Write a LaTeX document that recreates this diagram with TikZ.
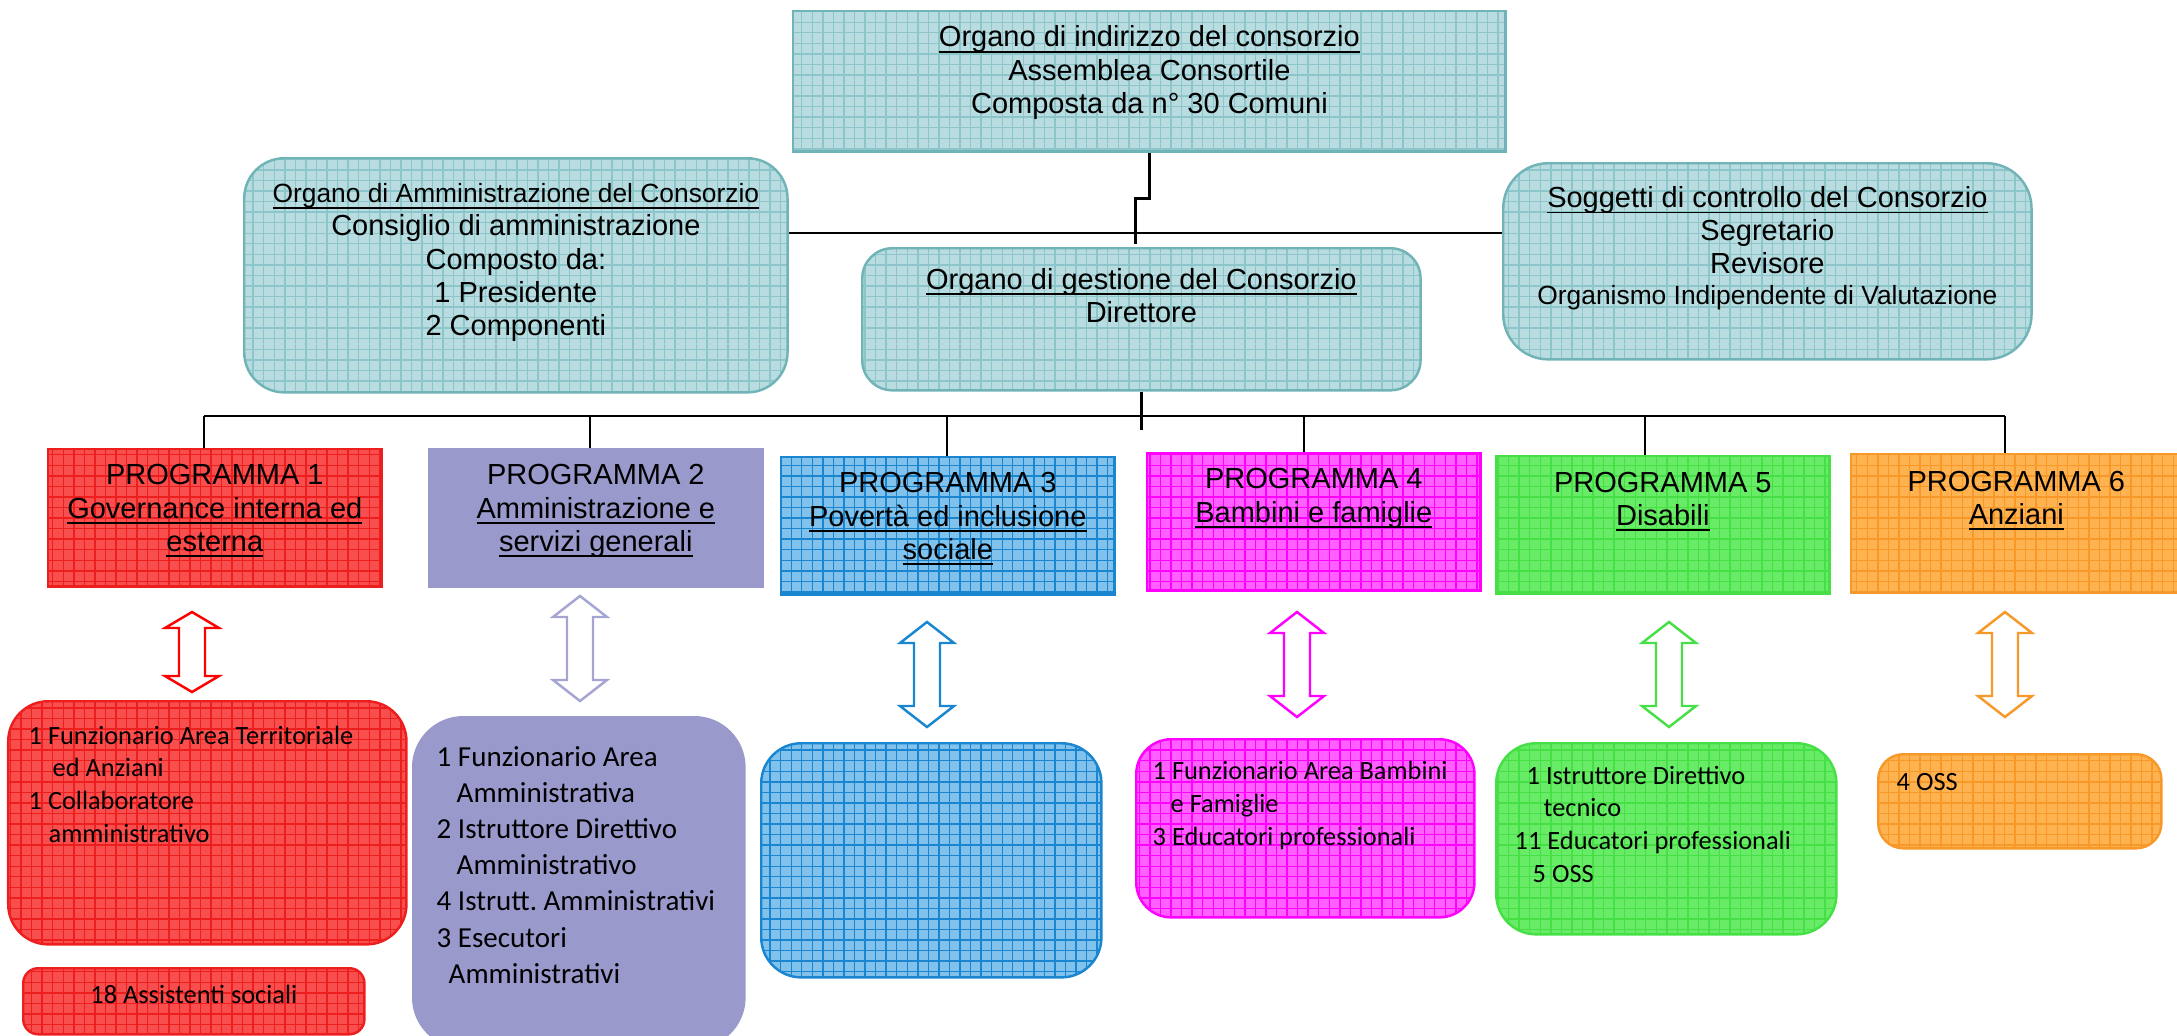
\documentclass[tikz,border=0pt]{standalone}
\usepackage{fontspec}
\setmainfont{Liberation Sans}
\newfontfamily\calib{Carlito}
\usetikzlibrary{patterns}

\definecolor{tealfill}{RGB}{184,220,223}
\definecolor{tealgrid}{RGB}{140,198,202}
\definecolor{tealline}{RGB}{112,180,184}
\definecolor{redfill}{RGB}{248,78,78}
\definecolor{redgrid}{RGB}{236,30,30}
\definecolor{purp}{RGB}{153,153,204}
\definecolor{purparrow}{RGB}{165,165,212}
\definecolor{bluefill}{RGB}{128,194,236}
\definecolor{bluegrid}{RGB}{26,134,208}
\definecolor{magfill}{RGB}{255,96,255}
\definecolor{maggrid}{RGB}{255,0,255}
\definecolor{grnfill}{RGB}{104,236,104}
\definecolor{grngrid}{RGB}{70,224,70}
\definecolor{orgfill}{RGB}{255,178,80}
\definecolor{orggrid}{RGB}{247,152,40}

\newcommand{\uln}[1]{\underline{\smash{#1}}}
% hollow up-down arrow: centre x, top tip, bottom tip, colour
\newcommand{\dblarr}[4]{%
  \draw[#4, line width=0.7pt, fill=white, line join=miter]
    (#1,#2) -- ({#1+27},{#2+0.2*(#3-#2)}) -- ({#1+13},{#2+0.2*(#3-#2)})
    -- ({#1+13},{#3-0.2*(#3-#2)}) -- ({#1+27},{#3-0.2*(#3-#2)}) -- (#1,#3)
    -- ({#1-27},{#3-0.2*(#3-#2)}) -- ({#1-13},{#3-0.2*(#3-#2)})
    -- ({#1-13},{#2+0.2*(#3-#2)}) -- ({#1-27},{#2+0.2*(#3-#2)}) -- cycle;}

\begin{document}
\begin{tikzpicture}[x=0.01cm, y=-0.01cm]
        \tikzset{plate/.style={inner sep=0pt, anchor=north west, line width=0.7pt}}
        \tikzset{tealbox/.style={plate, preaction={fill=tealfill}, pattern=grid, pattern color=tealgrid, draw=tealline}}
        \tikzset{gridbox/.style 2 args={plate, preaction={fill=#1}, pattern=grid, pattern color=#2, draw=#2}}
        \tikzset{conn/.style={line width=0.7pt, black}}
        \tikzset{boxtext/.style={inner sep=0pt, anchor=base, align=center, font=\fontsize{8.25}{9.4}\selectfont}}
        \tikzset{stafftext/.style={inner sep=0pt, anchor=base west, align=left, font=\calib\fontsize{7.5}{9.25}\selectfont}}
        \useasboundingbox (0,0) rectangle (2177,1035);

        % organi del consorzio
        \node[tealbox, minimum width=7.12cm, minimum height=1.40cm] (assem) at (792,10) {};
        \node[tealbox, rounded corners=0.4cm, minimum width=5.43cm, minimum height=2.34cm] (admin) at (243,157) {};
        \node[tealbox, rounded corners=0.3cm, minimum width=5.58cm, minimum height=1.42cm] (gest) at (861,247) {};
        \node[tealbox, rounded corners=0.45cm, minimum width=5.28cm, minimum height=1.96cm] (sogg) at (1502,162) {};

        % the base of a text block is its last line
        \node[boxtext] (assemT) at ([yshift=-1.03cm]assem.north) {\uln{Organo di indirizzo del consorzio}\\Assemblea Consortile\\Composta da n° 30 Comuni};
        \node[boxtext] (adminT) at ([yshift=-1.78cm]admin.north) {{\fontsize{7.5}{9.4}\selectfont\uln{Organo di Amministrazione del Consorzio}}\\Consiglio di amministrazione\\Composto da:\\1 Presidente\\2 Componenti};
        \node[boxtext] (gestT) at ([yshift=-0.75cm]gest.north) {\uln{Organo di gestione del Consorzio}\\Direttore};
        \node[boxtext] (soggT) at ([yshift=-1.42cm]sogg.north) {\uln{Soggetti di controllo del Consorzio}\\Segretario\\Revisore\\[-0.8pt]{\fontsize{7.5}{9}\selectfont Organismo Indipendente di Valutazione}};

        % programmi
        \node[gridbox={redfill}{redgrid}, minimum width=3.33cm, minimum height=1.37cm] (p1) at (47,448) {};
        \node[plate, fill=purp, draw=purp, minimum width=3.33cm, minimum height=1.37cm] (p2) at (428,448) {};
        \node[gridbox={bluefill}{bluegrid}, minimum width=3.33cm, minimum height=1.37cm] (p3) at (780,456) {};
        \node[gridbox={magfill}{maggrid}, minimum width=3.33cm, minimum height=1.37cm] (p4) at (1146,452) {};
        \node[gridbox={grnfill}{grngrid}, minimum width=3.33cm, minimum height=1.37cm] (p5) at (1495,455) {};
        \node[gridbox={orgfill}{orggrid}, minimum width=3.30cm, minimum height=1.38cm] (p6) at (1850,453) {};

        \node[boxtext] (p1T) at ([yshift=-1.03cm]p1.north) {PROGRAMMA 1\\\uln{Governance interna ed}\\\uln{esterna}};
        \node[boxtext] (p2T) at ([yshift=-1.03cm]p2.north) {PROGRAMMA 2\\\uln{Amministrazione e}\\\uln{servizi generali}};
        \node[boxtext] (p3T) at ([yshift=-1.03cm]p3.north) {PROGRAMMA 3\\\uln{Povertà ed inclusione}\\\uln{sociale}};
        \node[boxtext] (p4T) at ([yshift=-0.70cm]p4.north) {PROGRAMMA 4\\\uln{Bambini e famiglie}};
        \node[boxtext] (p5T) at ([yshift=-0.70cm]p5.north) {PROGRAMMA 5\\\uln{Disabili}};
        \node[boxtext] (p6T) at ([yshift=-0.71cm]p6.north) {PROGRAMMA 6\\\uln{Anziani}};

        % personale
        \node[gridbox={redfill}{redgrid}, rounded corners=0.4cm, minimum width=3.98cm, minimum height=2.43cm] (l1) at (7,700) {};
        \node[gridbox={redfill}{redgrid}, rounded corners=0.15cm, minimum width=3.41cm, minimum height=0.66cm] (l1b) at (22,967) {};
        \node[plate, fill=purp, draw=purp, rounded corners=0.5cm, minimum width=3.31cm, minimum height=3.3cm] (l2) at (412,716) {};
        \node[gridbox={bluefill}{bluegrid}, rounded corners=0.4cm, minimum width=3.40cm, minimum height=2.34cm] (l3) at (760,742) {};
        \node[gridbox={magfill}{maggrid}, rounded corners=0.35cm, minimum width=3.38cm, minimum height=1.78cm] (l4) at (1135,738) {};
        \node[gridbox={grnfill}{grngrid}, rounded corners=0.4cm, minimum width=3.40cm, minimum height=1.91cm] (l5) at (1495,742) {};
        \node[gridbox={orgfill}{orggrid}, rounded corners=0.25cm, minimum width=2.83cm, minimum height=0.94cm] (l6) at (1877,753) {};

        \node[stafftext] (l1T) at (28,842) {1 Funzionario Area Territoriale\\\hspace*{0.24cm}ed Anziani\\1 Collaboratore\\\hspace*{0.2cm}amministrativo};
        \node[stafftext, anchor=base] (l1bT) at ([yshift=-0.36cm]l1b.north) {18 Assistenti sociali};
        \node[stafftext, font=\calib\fontsize{8.25}{10.24}\selectfont] (l2T) at (436,983) {1 Funzionario Area\\\hspace*{0.2cm}Amministrativa\\2 Istruttore Direttivo\\\hspace*{0.2cm}Amministrativo\\4 Istrutt.\ Amministrativi\\3 Esecutori\\\hspace*{0.12cm}Amministrativi};
        \node[stafftext] (l4T) at (1152,845) {1 Funzionario Area Bambini\\\hspace*{0.18cm}e Famiglie\\3 Educatori professionali};
        \node[stafftext] (l5T) at (1514,882) {\hspace*{0.12cm}1 Istruttore Direttivo\\\hspace*{0.29cm}tecnico\\11 Educatori professionali\\\hspace*{0.18cm}5 OSS};
        \node[stafftext] (l6T) at (1896,790) {4 OSS};

        % frecce tra programma e personale
        \dblarr{192}{612}{692}{red}
        \dblarr{580}{596}{701}{purparrow}
        \dblarr{927}{622}{727}{bluegrid}
        \dblarr{1297}{612}{717}{maggrid}
        \dblarr{1669}{622}{727}{grngrid}
        \dblarr{2005}{612}{717}{orggrid}

        % collegamenti
        \coordinate (hl) at (0,233);
        \draw[conn] (admin.east |- hl) -- (sogg.west |- hl);
        \draw[conn] (assem.south) -- ++(0,46) -- ++(-14,0) -- ++(0,45);
        \draw[conn] (gest.south) -- ++(0,38);
        \foreach \i/\x in {1/204,2/590,3/947,4/1304,5/1645,6/2005}
            \coordinate (t\i) at (\x,416);
        \draw[conn] (t1) -- (t6);
        \foreach \i in {1,...,6}
            \draw[conn] (t\i) -- (t\i |- p\i.north);
\end{tikzpicture}
\end{document}
